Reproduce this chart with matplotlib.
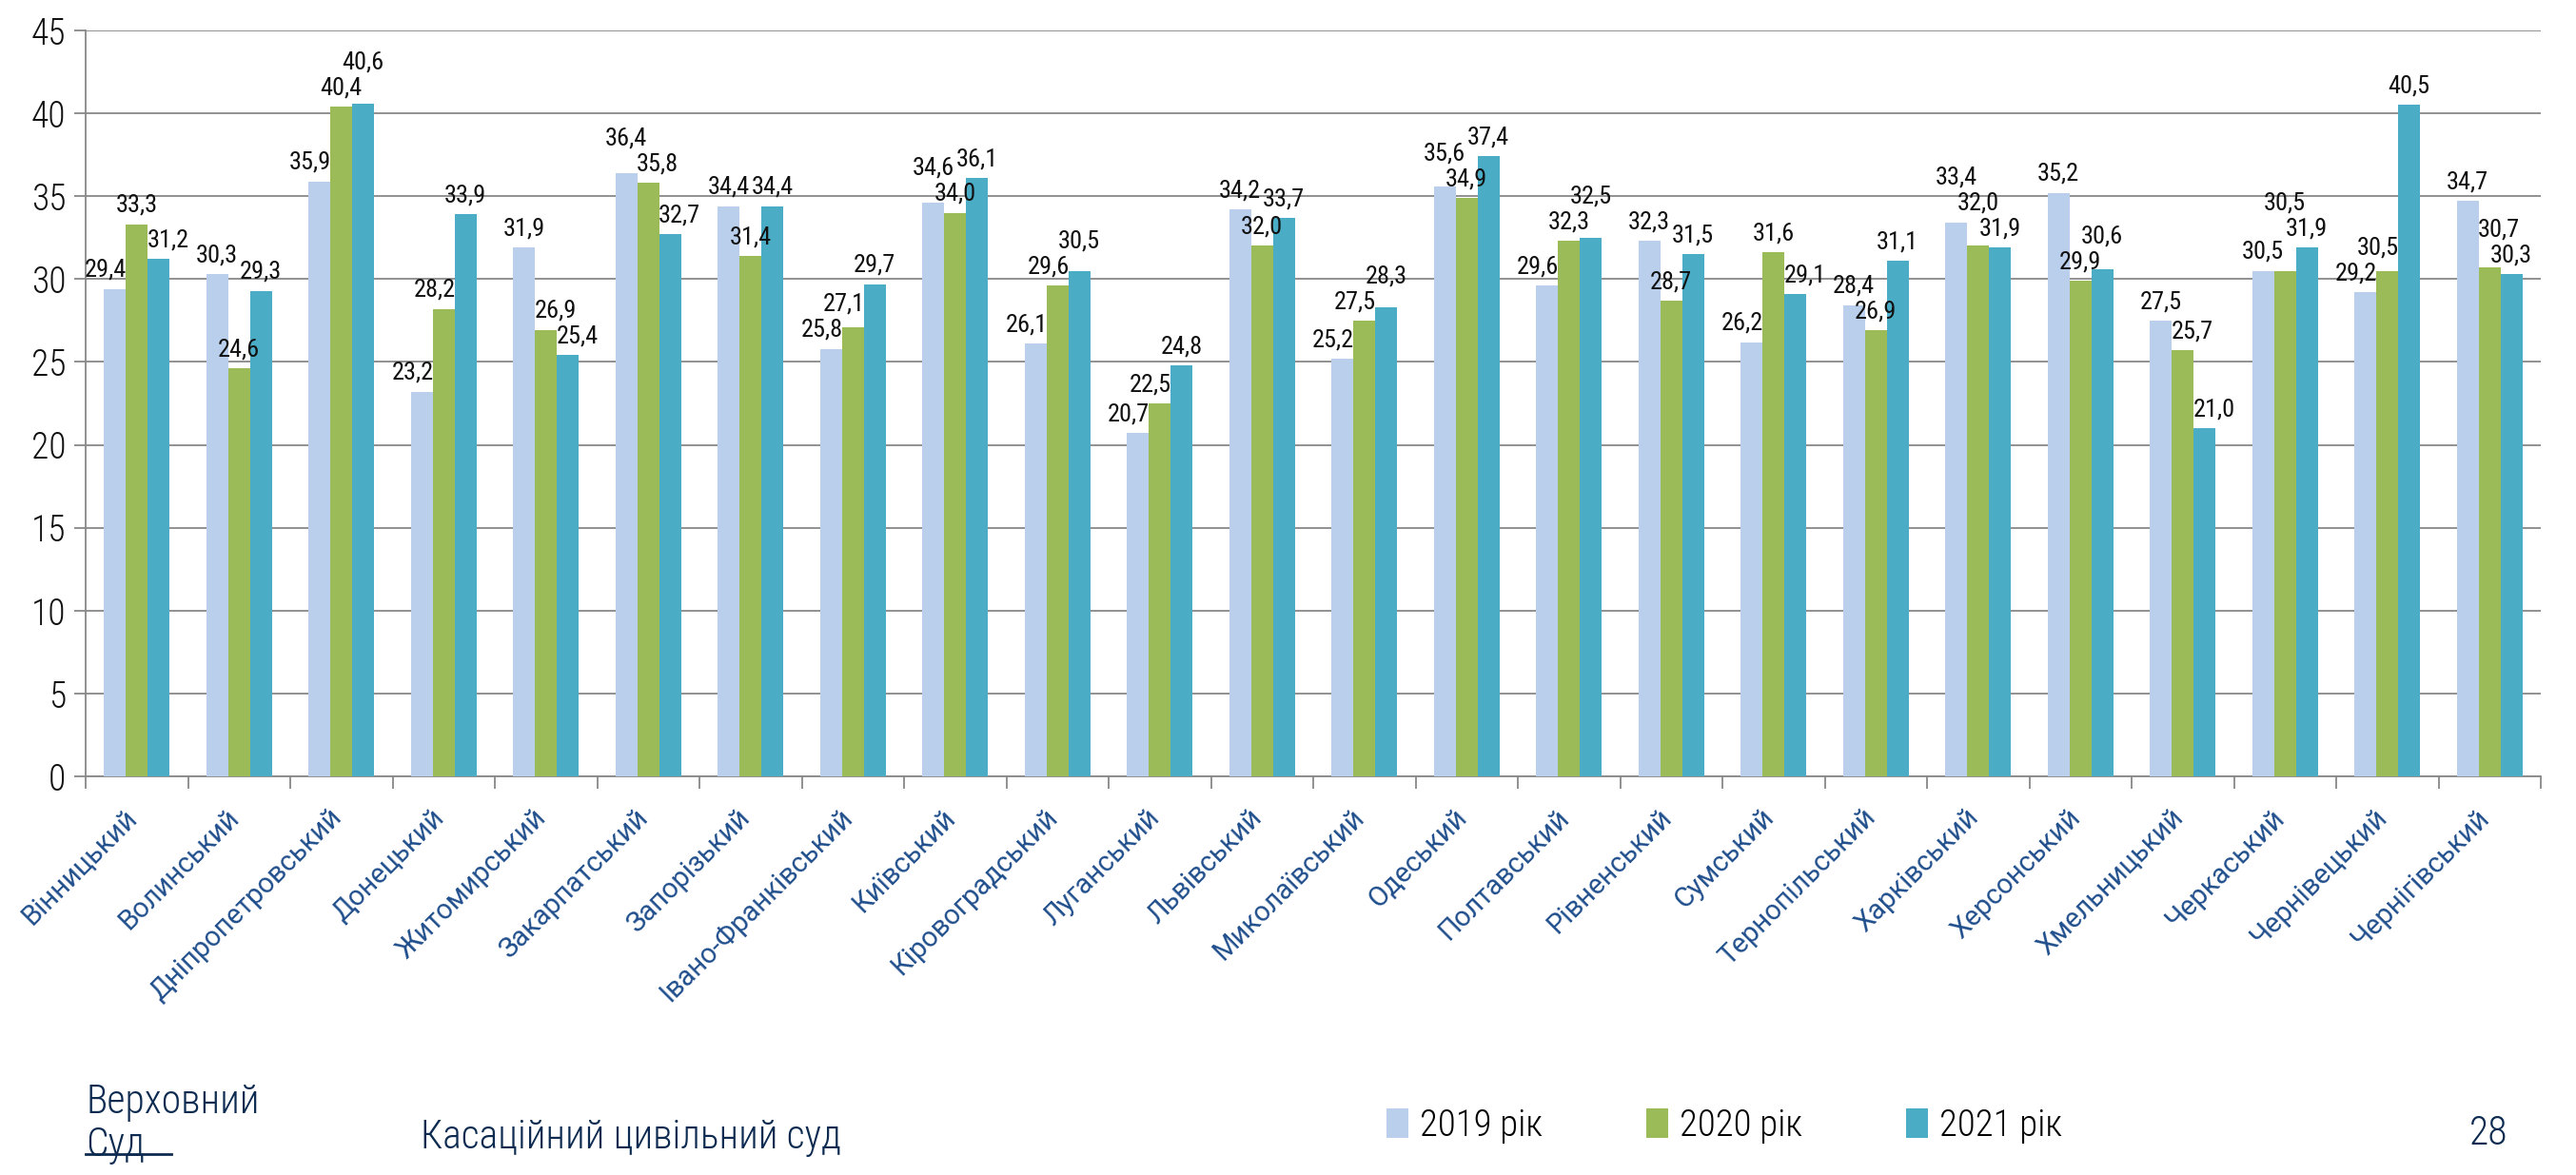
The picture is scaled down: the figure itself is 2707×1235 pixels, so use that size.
import numpy as np
import matplotlib
matplotlib.use('Agg')
import matplotlib.pyplot as plt
from matplotlib import font_manager as fm
from matplotlib.transforms import offset_copy

# Дані
regions = ['Вінницький', 'Волинський', 'Дніпропетровський', 'Донецький', 'Житомирський',
           'Закарпатський', 'Запорізький', 'Івано-Франківський', 'Київський', 'Кіровоградський',
           'Луганський', 'Львівський', 'Миколаївський', 'Одеський', 'Полтавський',
           'Рівненський', 'Сумський', 'Тернопільський', 'Харківський', 'Херсонський',
           'Хмельницький', 'Черкаський', 'Чернівецький', 'Чернігівський']
y2019 = [29.4, 30.3, 35.9, 23.2, 31.9, 36.4, 34.4, 25.8, 34.6, 26.1, 20.7, 34.2,
         25.2, 35.6, 29.6, 32.3, 26.2, 28.4, 33.4, 35.2, 27.5, 30.5, 29.2, 34.7]
y2020 = [33.3, 24.6, 40.4, 28.2, 26.9, 35.8, 31.4, 27.1, 34.0, 29.6, 22.5, 32.0,
         27.5, 34.9, 32.3, 28.7, 31.6, 26.9, 32.0, 29.9, 25.7, 30.5, 30.5, 30.7]
y2021 = [31.2, 29.3, 40.6, 33.9, 25.4, 32.7, 34.4, 29.7, 36.1, 30.5, 24.8, 33.7,
         28.3, 37.4, 32.5, 31.5, 29.1, 31.1, 31.9, 30.6, 21.0, 31.9, 40.5, 30.3]
series_names = ['2019 рік', '2020 рік', '2021 рік']
colors = ['#B9CFEC', '#9BBB59', '#4BACC6']

# Вузький шрифт, якщо є
names = {f.name for f in fm.fontManager.ttflist}
narrow_family = 'DejaVu Sans'
narrow_stretch = 'normal'
for n in ['Roboto Condensed', 'Liberation Sans Narrow', 'Open Sans Condensed', 'Noto Sans Condensed']:
    if n in names:
        narrow_family = n
        break
else:
    if any(f.name == 'DejaVu Sans' and f.stretch == 'condensed' for f in fm.fontManager.ttflist):
        narrow_stretch = 'condensed'
label_font = 'Roboto' if 'Roboto' in names else 'DejaVu Sans'


def nfont(size, weight='light'):
    return fm.FontProperties(family=narrow_family, stretch=narrow_stretch, weight=weight, size=size)


fig = plt.figure(figsize=(27.07, 12.35), dpi=100)
ax = fig.add_axes([90 / 2707, 1 - 816 / 1235, 2580 / 2707, 784 / 1235])

x = np.arange(len(regions))
w = 0.214
data = [y2019, y2020, y2021]
for i, (vals, c, name) in enumerate(zip(data, colors, series_names)):
    ax.bar(x + (i - 1) * w, vals, width=w, color=c, label=name, zorder=3)

# Підписи значень: розсунути, щоб не накладались
h = 1.55
lfp = nfont(19, 'normal')
for g in range(len(regions)):
    vals = [d[g] for d in data]
    ys = [v + 0.45 for v in vals]
    for _ in range(4):
        for i in (1, 2):
            if abs(ys[i] - ys[i - 1]) < h:
                if ys[i] >= ys[i - 1]:
                    ys[i] = ys[i - 1] + h
                else:
                    ys[i - 1] = ys[i] + h
    for i in range(3):
        dx = 0
        if i < 2 and vals[i + 1] > ys[i]:
            dx -= 7
        if i > 0 and vals[i - 1] > ys[i]:
            dx += 7
        ax.annotate(f'{vals[i]:.1f}'.replace('.', ','), (g + (i - 1) * w, ys[i]),
                    xytext=(dx, 0), textcoords='offset points', ha='center', va='bottom',
                    fontproperties=lfp, color='#111111', zorder=4)

ax.set_xlim(-0.5, len(regions) - 0.5)
ax.set_ylim(0, 45)
ax.set_yticks(range(0, 46, 5))
ax.grid(axis='y', color='#888888', linewidth=1.3, zorder=0)
ax.set_axisbelow(True)
for s in ['top', 'right']:
    ax.spines[s].set_visible(False)
for s in ['left', 'bottom']:
    ax.spines[s].set_color('#888888')
    ax.spines[s].set_linewidth(1.3)

yfp = nfont(27)
for t in ax.get_yticklabels():
    t.set_fontproperties(yfp)
    t.set_color('#111111')
ax.tick_params(axis='y', length=9, width=1.3, color='#888888', pad=6)

# Категорії
ax.set_xticks(x)
ax.set_xticklabels([])
ax.tick_params(axis='x', length=0)
ax.set_xticks(np.arange(-0.5, len(regions), 1), minor=True)
ax.tick_params(axis='x', which='minor', length=9, width=1.3, color='#888888')
tr = offset_copy(ax.get_xaxis_transform(), fig=fig, x=-3, y=-28, units='points')
for g, name in enumerate(regions):
    ax.text(g, 0, name, transform=tr, rotation=45, ha='right', va='center',
            rotation_mode='anchor', fontsize=21, family=label_font, weight='normal',
            color='#1F4E8C')

# Нижній колонтитул
navy = '#0D2B50'
ffp = nfont(30)
fig.text(90 / 2707, 1 - 1170 / 1235, 'Верховний', fontproperties=ffp, color=navy, va='baseline')
fig.text(90 / 2707, 1 - 1215 / 1235, 'Суд', fontproperties=ffp, color=navy, va='baseline')
fig.add_artist(plt.Line2D([90 / 2707, 180 / 2707], [1 - 1213 / 1235] * 2, color=navy, linewidth=2))
fig.text(442 / 2707, 1 - 1207 / 1235, 'Касаційний цивільний суд', fontproperties=ffp,
         color=navy, va='baseline')
fig.text(2595 / 2707, 1 - 1203 / 1235, '28', fontproperties=ffp, color=navy, va='baseline')

handles, labels = ax.get_legend_handles_labels()
fig.legend(handles, labels, loc='center', bbox_to_anchor=(1812 / 2707, 1 - 1183 / 1235),
           ncol=3, frameon=False, prop=nfont(28), handlelength=0.6, handleheight=0.85,
           handletextpad=0.3, columnspacing=2.8)

fig.savefig('out.png', dpi=100)
